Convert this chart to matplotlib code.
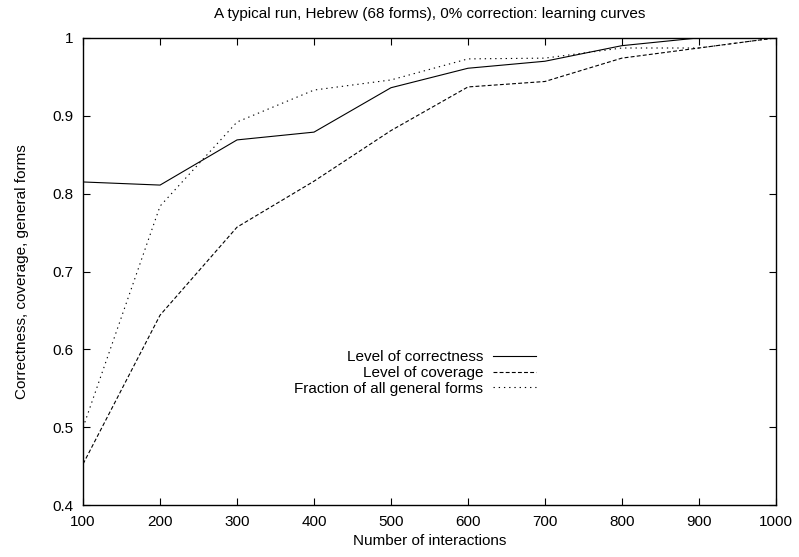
import matplotlib
matplotlib.use("Agg")
import matplotlib.pyplot as plt

plt.rcParams["font.family"] = ["Liberation Sans", "DejaVu Sans"]

interactions = [100, 200, 300, 400, 500, 600, 700, 800, 900, 1000]
correctness = [0.815, 0.811, 0.869, 0.879, 0.936, 0.961, 0.970, 0.990, 1.0, 1.0]
coverage = [0.453, 0.644, 0.757, 0.816, 0.881, 0.937, 0.944, 0.974, 0.987, 1.0]
general_forms = [0.500, 0.784, 0.892, 0.933, 0.946, 0.973, 0.974, 0.987, 0.987, 1.0]

fig = plt.figure(figsize=(7.99, 5.57), dpi=100)
ax = fig.add_axes([0.104, 0.093, 0.867, 0.839])

ax.plot(interactions, correctness, color="black", lw=0.8, label="Level of correctness")
ax.plot(interactions, coverage, color="black", lw=0.8, dashes=(3.5, 2), label="Level of coverage")
ax.plot(interactions, general_forms, color="black", lw=0.8, dashes=(1.2, 3.5),
        label="Fraction of all general forms")

ax.set_xlim(100, 1000)
ax.set_ylim(0.4, 1.0)
ax.set_xticks(interactions)
ax.set_yticks([0.4, 0.5, 0.6, 0.7, 0.8, 0.9, 1.0])
ax.set_yticklabels(["0.4", "0.5", "0.6", "0.7", "0.8", "0.9", "1"])
ax.tick_params(direction="in", length=5, width=0.8, top=True, right=True, labelsize=11)
ax.tick_params(axis="x", pad=7)
ax.tick_params(axis="y", pad=7)
for s in ax.spines.values():
    s.set_linewidth(1.0)

ax.set_xlabel("Number of interactions", fontsize=11, labelpad=4)
ax.set_ylabel("Correctness, coverage, general forms", fontsize=11, labelpad=17)
ax.set_title("A typical run, Hebrew (68 forms), 0% correction: learning curves",
             fontsize=11, pad=14)

ax.legend(loc="center right", bbox_to_anchor=(0.654, 0.283), frameon=False,
          markerfirst=False, fontsize=11, handlelength=2.8, handletextpad=0.65,
          labelspacing=0.12, borderpad=0, borderaxespad=0)

fig.savefig("out.png", dpi=100)
